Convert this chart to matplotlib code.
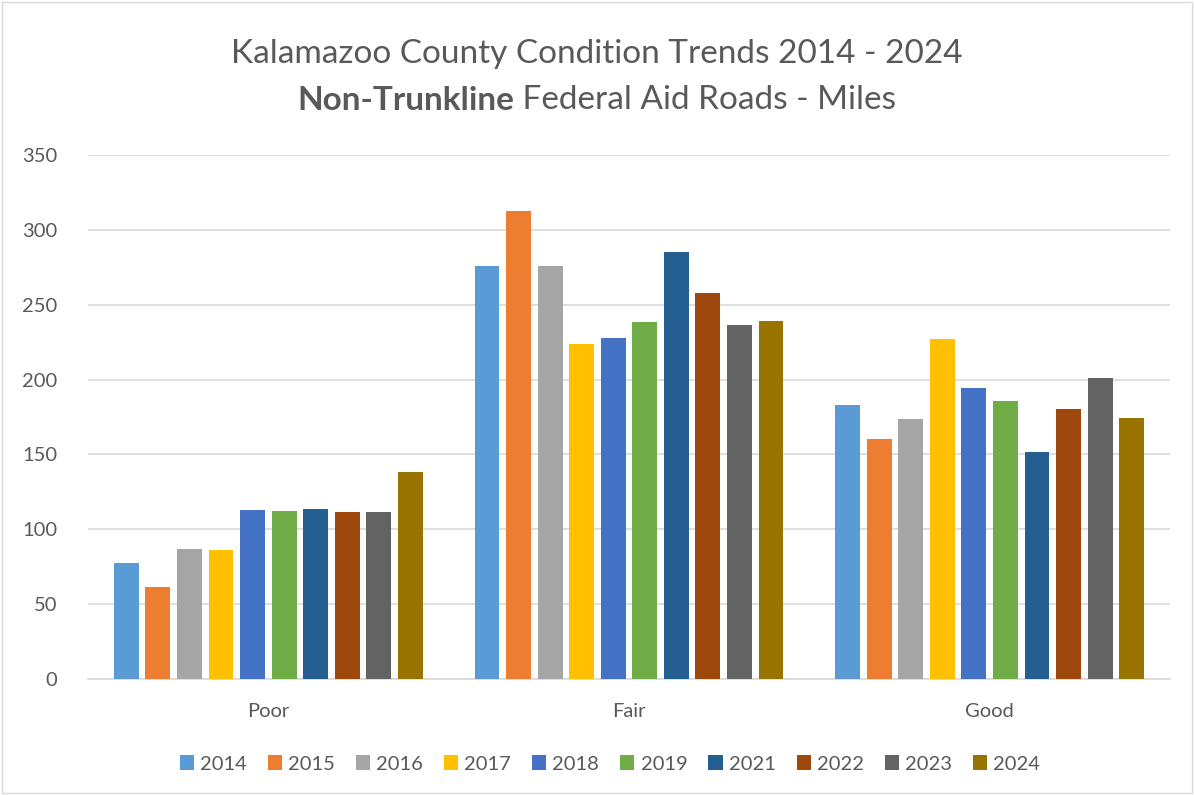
import numpy as np
import matplotlib.pyplot as plt
from matplotlib.patches import Rectangle

plt.rcParams['font.family'] = ['Lato', 'DejaVu Sans']

conditions = ['Poor', 'Fair', 'Good']
years = ['2014', '2015', '2016', '2017', '2018', '2019', '2021', '2022', '2023', '2024']

# miles per condition class, one list per year (Poor, Fair, Good)
miles_2014 = [77.6, 275.9, 183.0]
miles_2015 = [61.7, 312.6, 160.3]
miles_2016 = [86.6, 275.9, 173.7]
miles_2017 = [86.4, 223.8, 227.1]
miles_2018 = [112.9, 227.8, 194.4]
miles_2019 = [112.0, 238.5, 185.7]
miles_2021 = [113.4, 285.2, 151.6]
miles_2022 = [111.4, 257.8, 180.4]
miles_2023 = [111.6, 236.5, 201.1]
miles_2024 = [138.3, 239.1, 174.3]

series = [miles_2014, miles_2015, miles_2016, miles_2017, miles_2018,
          miles_2019, miles_2021, miles_2022, miles_2023, miles_2024]
colors = ['#5b9bd5', '#ed7d31', '#a5a5a5', '#ffc000', '#4472c4',
          '#70ad47', '#255e91', '#9e480e', '#636363', '#997300']

text_color = '#595959'

fig = plt.figure(figsize=(11.94, 7.95), dpi=100)
ax = fig.add_axes([88 / 1194, 1 - 679 / 795, (1170 - 88) / 1194, (679 - 155) / 795])

x = np.arange(len(conditions))
slot = 0.0875
width = 0.069
for i, (vals, col) in enumerate(zip(series, colors)):
    offset = (i - (len(series) - 1) / 2) * slot
    ax.bar(x + offset, vals, width=width, color=col, label=years[i], zorder=3)

ax.set_xlim(-0.5, 2.5)
ax.set_ylim(0, 350)
ax.set_yticks(range(0, 351, 50))
ax.set_xticks(x)
ax.set_xticklabels(conditions)
ax.tick_params(axis='both', length=0, labelsize=14.5, colors=text_color)
ax.tick_params(axis='x', pad=17)
ax.tick_params(axis='y', pad=22)
ax.grid(axis='y', color='#d9d9d9', linewidth=1.2, zorder=0)
for side in ['top', 'right', 'left']:
    ax.spines[side].set_visible(False)
ax.spines['bottom'].set_color('#d9d9d9')
ax.spines['bottom'].set_linewidth(1.2)

fig.text(0.5, 1 - 54 / 795, 'Kalamazoo County Condition Trends 2014 - 2024',
         ha='center', va='center', fontsize=24, color=text_color)

# second title line: bold lead-in followed by regular text
t1 = fig.text(0, 1 - 100 / 795, 'Non-Trunkline', fontsize=24, fontweight='bold',
              color=text_color, va='center')
t2 = fig.text(0, 1 - 100 / 795, ' Federal Aid Roads - Miles', fontsize=24,
              color=text_color, va='center')
fig.canvas.draw()
r = fig.canvas.get_renderer()
w1 = t1.get_window_extent(r).width / fig.bbox.width
w2 = t2.get_window_extent(r).width / fig.bbox.width
start = 0.5 - (w1 + w2) / 2
t1.set_x(start)
t2.set_x(start + w1)

ax.legend(loc='center', bbox_to_anchor=(610 / 1194, 1 - 764 / 795), bbox_transform=fig.transFigure,
          ncol=10, frameon=False, fontsize=14.5, handlelength=0.7, handleheight=0.7,
          handletextpad=0.3, columnspacing=1.05, labelcolor=text_color)

fig.patches.append(Rectangle((0.002, 0.002), 0.996, 0.996, transform=fig.transFigure,
                             fill=False, edgecolor='#d9d9d9', linewidth=1))

fig.savefig('out.png', dpi=100, facecolor='white')
